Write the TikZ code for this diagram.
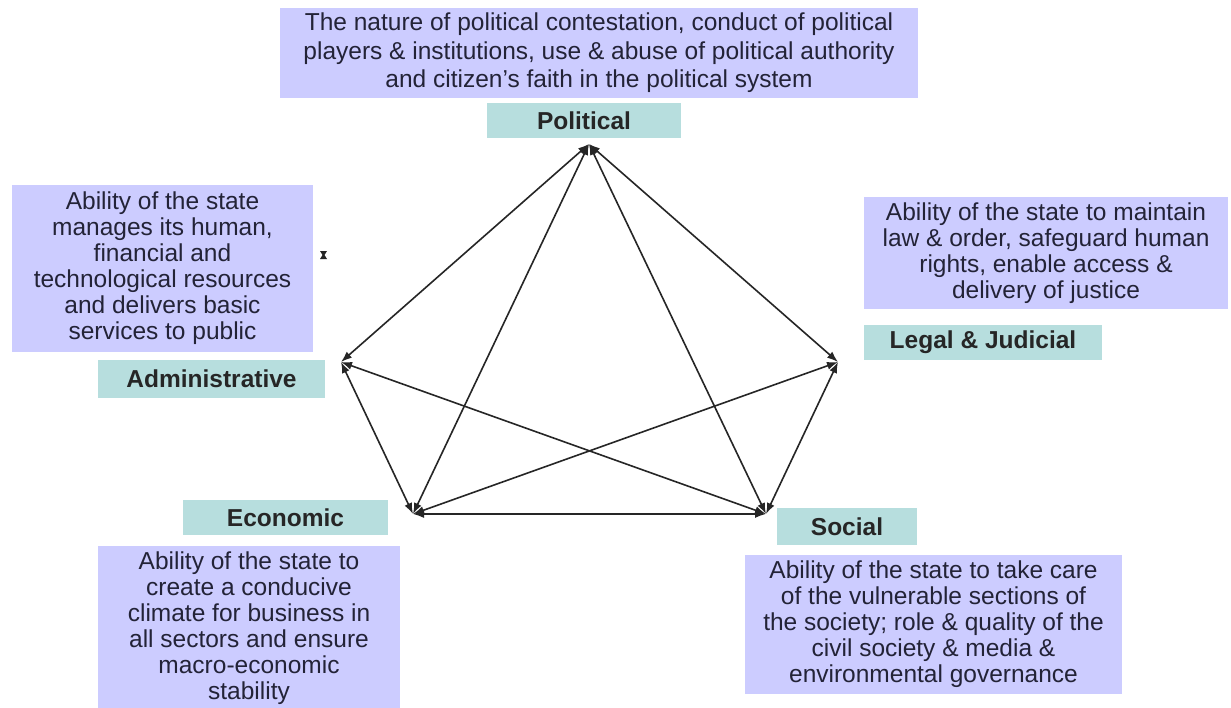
\documentclass[tikz,border=0pt]{standalone}
\usepackage{fontspec}
\setmainfont{Liberation Sans}
\usetikzlibrary{arrows.meta}
\definecolor{lav}{RGB}{204,204,255}
\definecolor{tealbox}{RGB}{183,222,222}
\definecolor{ink}{RGB}{35,35,55}
\begin{document}
\begin{tikzpicture}[x=1pt,y=-1pt,
  desc/.style={fill=lav, text=ink, align=center, inner sep=0pt, font=\fontsize{24.5}{26}\selectfont},
  lbl/.style={fill=tealbox, text=black!85, inner sep=0pt, font=\fontsize{24.5}{26}\selectfont\bfseries},
  link/.style={draw=black!85, line width=1.6pt, {Latex[length=11pt,width=8pt]}-{Latex[length=11pt,width=8pt]}}]
\useasboundingbox (0,0) rectangle (1231,707);
\fill[white] (0,0) rectangle (1231,707);

% description boxes
\node[desc, minimum width=638pt, minimum height=90pt, font=\fontsize{24.5}{28.5}\selectfont] (pdesc) at (599,53)
  {The nature of political contestation, conduct of political\\players \& institutions, use \& abuse of political authority\\and citizen's faith in the political system};
\node[desc, minimum width=301pt, minimum height=167pt] (adesc) at (162.5,268.5)
  {Ability of the state\\manages its human,\\financial and\\technological resources\\and delivers basic\\services to public};
\node[desc, minimum width=364pt, minimum height=112pt] (ldesc) at (1046,253)
  {Ability of the state to maintain\\law \& order, safeguard human\\rights, enable access \&\\delivery of justice};
\node[desc, minimum width=302pt, minimum height=164pt] (edesc) at (249,628)
  {Ability of the state to\\create a conducive\\climate for business in\\all sectors and ensure\\macro-economic\\stability};
\node[desc, minimum width=377pt, minimum height=139pt] (sdesc) at (933.5,624.5)
  {Ability of the state to take care\\of the vulnerable sections of\\the society; role \& quality of the\\civil society \& media \&\\environmental governance};

% labels
\node[lbl, minimum width=194pt, minimum height=35pt] (plbl) at (584,120.5) {Political};
\node[lbl, minimum width=227pt, minimum height=38pt] (albl) at (211.5,379) {Administrative};
\node[lbl, minimum width=238pt, minimum height=35pt] (llbl) at (983,342.5) {Legal \& Judicial};
\node[lbl, minimum width=205pt, minimum height=35pt] (elbl) at (285.5,517.5) {Economic};
\node[lbl, minimum width=140pt, minimum height=37pt] (slbl) at (847,526.5) {Social};

% vertices
\coordinate (P) at (589,144);
\coordinate (A) at (341,362);
\coordinate (L) at (838,362);
\coordinate (E) at (413,514);
\coordinate (S) at (766,514);

% connectors
\draw[link] (P) -- (A);
\draw[link] (P) -- (L);
\draw[link] (P) -- (E);
\draw[link] (P) -- (S);
\draw[link] (A) -- (E);
\draw[link] (A) -- (S);
\draw[link] (L) -- (E);
\draw[link] (L) -- (S);
\draw[link] (E) -- (S);

% stray mark
\fill[black!85] (320,251) -- (327,251) -- (324.5,255) -- (327,259) -- (320,259) -- (322.5,255) -- cycle;
\end{tikzpicture}
\end{document}
